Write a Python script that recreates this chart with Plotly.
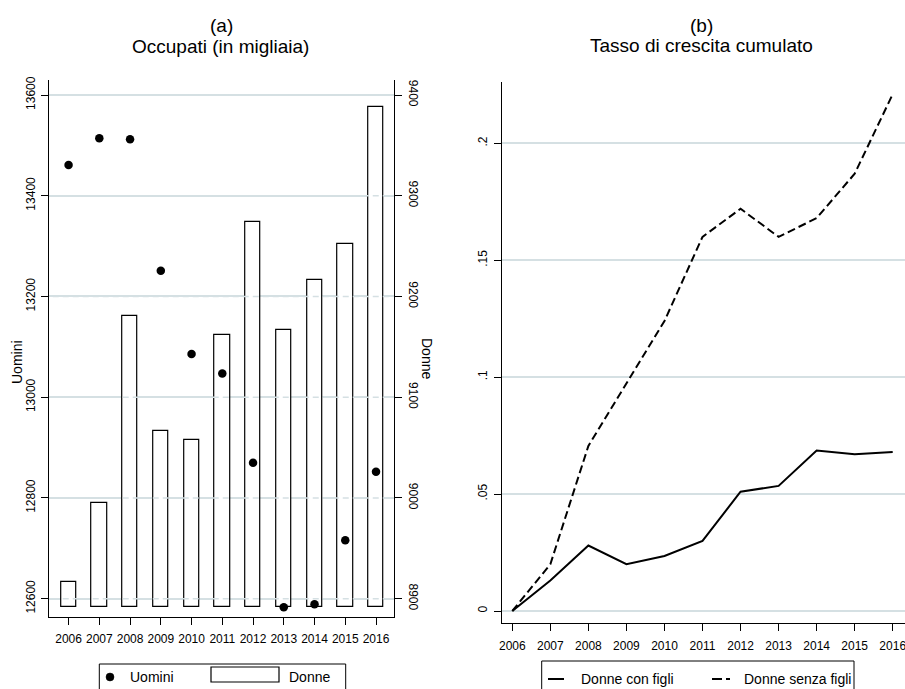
import plotly.graph_objects as go

# ---- data -------------------------------------------------------------
years = [2006, 2007, 2008, 2009, 2010, 2011, 2012, 2013, 2014, 2015, 2016]

# Occupati (in migliaia)
uomini = [13461, 13514, 13512, 13251, 13086, 13047, 12870, 12583, 12589, 12716, 12852]
donne = [8917, 8995, 9181, 9066, 9058, 9162, 9274, 9167, 9216, 9252, 9388]
donne_base = 8892

# Tasso di crescita cumulato
donne_con_figli = [0, 0.013, 0.028, 0.020, 0.0235, 0.030, 0.051, 0.0535, 0.0686, 0.067, 0.068]
donne_senza_figli = [0, 0.020, 0.0706, 0.097, 0.124, 0.160, 0.172, 0.160, 0.168, 0.187, 0.221]

uomini_ticks = [12600, 12800, 13000, 13200, 13400, 13600]
donne_ticks = [8900, 9000, 9100, 9200, 9300, 9400]
tasso_ticks = [0, 0.05, 0.1, 0.15, 0.2]
tasso_labels = ["0", ".05", ".1", ".15", ".2"]

# ---- page geometry (pixels -> paper) ---------------------------------
W, H = 905, 689
FONT = "Liberation Sans, Arial, Helvetica, sans-serif"
GRID = "#d5e0e3"


def fx(p):
    return p / W


def fy(p):
    return 1 - p / H


fig = go.Figure()

# panel (a): bars for women (right axis), dots for men (left axis)
fig.add_trace(go.Bar(
    x=years, y=[v - donne_base for v in donne], base=donne_base,
    width=0.5, name="Donne",
    marker=dict(color="white", line=dict(color="black", width=1.2)),
    xaxis="x", yaxis="y", showlegend=False,
))
fig.add_trace(go.Scatter(
    x=years, y=uomini, mode="markers", name="Uomini",
    marker=dict(color="black", size=8.5),
    xaxis="x", yaxis="y2", showlegend=False,
))

# panel (b): cumulative growth lines
fig.add_trace(go.Scatter(
    x=years, y=donne_con_figli, mode="lines", name="Donne con figli",
    line=dict(color="black", width=2),
    xaxis="x2", yaxis="y3", showlegend=False,
))
fig.add_trace(go.Scatter(
    x=years, y=donne_senza_figli, mode="lines", name="Donne senza figli",
    line=dict(color="black", width=2, dash="8px,4px"),
    xaxis="x2", yaxis="y3", showlegend=False,
))

tickfont = dict(family=FONT, size=12, color="black")
axis_common = dict(
    showline=True, linecolor="black", linewidth=1,
    ticks="outside", ticklen=7, tickcolor="black", tickwidth=1,
    zeroline=False, tickfont=tickfont, ticklabeloverflow="allow",
)

left_dom_x = [fx(49.3), fx(394)]
left_dom_y = [fy(617), fy(80)]
right_dom_x = [fx(501.7), 1.0]
right_dom_y = [fy(623.3), fy(81.7)]

fig.update_layout(
    width=W, height=H,
    margin=dict(l=0, r=0, t=0, b=0, autoexpand=False),
    paper_bgcolor="white", plot_bgcolor="white",
    font=dict(family=FONT, color="black"),
    bargap=0,
    xaxis=dict(
        domain=left_dom_x, anchor="y", range=[2005.373, 2016.585],
        tickvals=years, ticktext=[str(y) for y in years],
        showgrid=False, ticklabelstandoff=4, **axis_common,
    ),
    yaxis=dict(
        domain=left_dom_y, anchor="x", side="right",
        range=[8881.8, 9414.9], tickvals=donne_ticks,
        ticktext=[str(v) for v in donne_ticks],
        tickangle=90, showgrid=True, gridcolor=GRID, gridwidth=1.5,
        ticklabelstandoff=2, **axis_common,
    ),
    yaxis2=dict(
        overlaying="y", anchor="x", side="left",
        range=[12563.7, 13629.8], tickvals=uomini_ticks,
        ticktext=[str(v) for v in uomini_ticks],
        tickangle=-90, showgrid=False, ticklabelstandoff=2,
        **axis_common,
    ),
    xaxis2=dict(
        domain=right_dom_x, anchor="y3", range=[2005.7213, 2016.323],
        tickvals=years, ticktext=[str(y) for y in years],
        showgrid=False, ticklabelstandoff=4, **axis_common,
    ),
    yaxis3=dict(
        domain=right_dom_y, anchor="x2", range=[-0.00526, 0.22634],
        tickvals=tasso_ticks, ticktext=tasso_labels,
        tickangle=-90, showgrid=True, gridcolor=GRID, gridwidth=1.5,
        ticklabelstandoff=2, **axis_common,
    ),
)

shapes = []
# dashed grid of the right-hand axis of panel (a), drawn over the bars
for v in donne_ticks:
    shapes.append(dict(
        type="line", xref="x domain", x0=0.01, x1=0.99, yref="y", y0=v, y1=v,
        line=dict(color=GRID, width=1.5, dash="6px,4px"), layer="above",
    ))

# legend of panel (a)
shapes += [
    dict(type="rect", xref="paper", yref="paper",
         x0=fx(99.3), x1=fx(345.7), y0=fy(664), y1=fy(700),
         line=dict(color="black", width=1), fillcolor="rgba(0,0,0,0)"),
    dict(type="circle", xref="paper", yref="paper",
         x0=fx(106), x1=fx(114), y0=fy(681), y1=fy(673),
         line=dict(color="black", width=0.5), fillcolor="black"),
    dict(type="rect", xref="paper", yref="paper",
         x0=fx(211), x1=fx(279), y0=fy(682), y1=fy(667),
         line=dict(color="black", width=1.2), fillcolor="white"),
]
# legend of panel (b)
shapes += [
    dict(type="rect", xref="paper", yref="paper",
         x0=fx(541.7), x1=fx(854), y0=fy(661), y1=fy(700),
         line=dict(color="black", width=1), fillcolor="rgba(0,0,0,0)"),
    dict(type="line", xref="paper", yref="paper",
         x0=fx(548), x1=fx(564), y0=fy(679), y1=fy(679),
         line=dict(color="black", width=2)),
    dict(type="line", xref="paper", yref="paper",
         x0=fx(712), x1=fx(730), y0=fy(679), y1=fy(679),
         line=dict(color="black", width=2, dash="10px,4px")),
]
fig.update_layout(shapes=shapes)


def label(text, x, y, size, xanchor="center", angle=0):
    return dict(
        text=text, xref="paper", yref="paper", x=fx(x), y=fy(y),
        xanchor=xanchor, yanchor="middle", showarrow=False,
        textangle=angle, font=dict(family=FONT, size=size, color="black"),
    )


fig.update_layout(annotations=[
    label("(a)", 221.7, 25, 19),
    label("Occupati (in migliaia)", 220, 46.5, 19),
    label("(b)", 701.7, 25, 19),
    label("Tasso di crescita cumulato", 701.5, 46, 19),
    label("Uomini", 17, 362, 14, angle=-90),
    label("Donne", 427, 358, 14, angle=90),
    label("Uomini", 128, 677, 14, xanchor="left"),
    label("Donne", 287, 677, 14, xanchor="left"),
    label("Donne con figli", 579, 679, 14, xanchor="left"),
    label("Donne senza figli", 742, 679, 14, xanchor="left"),
])

fig.write_html("out.html")
